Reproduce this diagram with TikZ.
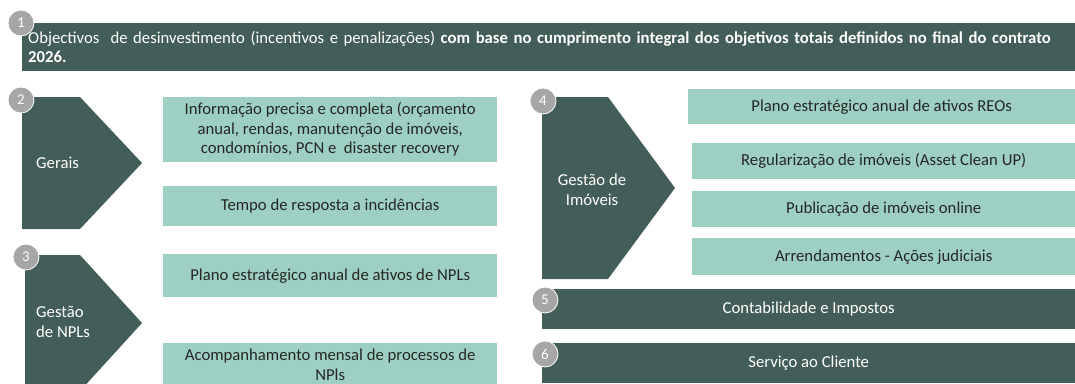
\documentclass[tikz,border=0pt]{standalone}
\usepackage{fontspec}
\setmainfont{Carlito}
\definecolor{slate}{HTML}{435E58}
\definecolor{mint}{HTML}{9DD0C3}
\definecolor{badgegray}{HTML}{A6A6A6}
\definecolor{ink}{HTML}{262626}
\tikzset{
  darkbar/.style={fill=slate,text=white,inner sep=0pt,anchor=north west},
  itembox/.style={fill=mint,text=ink,align=center,inner sep=0pt,anchor=north west},
  badge/.style={circle,fill=badgegray,draw=white,line width=0.8pt,text=white,minimum size=26pt,inner sep=0pt,font=\fontsize{15}{15}\selectfont},
  lbl/.style={text=white,align=left,inner sep=0pt}
}
\begin{document}
\begin{tikzpicture}[x=1pt,y=-1pt,font=\fontsize{16.7}{19.5}\selectfont]
\useasboundingbox (0,0) rectangle (1075,383);

\node [darkbar,minimum width=1053pt,minimum height=48pt,text width=1041pt,inner xsep=6pt,align=left] (obj) at (22,23)
  {Objectivos \ de desinvestimento (incentivos e penalizações) \textbf{com base no cumprimento integral dos objetivos totais definidos no final do contrato}\\\textbf{2026.}}; %Header

\fill [slate] (22,97) -- (80,97) -- (142,163) -- (80,229) -- (22,229) -- cycle; %Gerais
\fill [slate] (25,255) -- (80,255) -- (142,323) -- (80,391) -- (25,391) -- cycle; %NPLs
\fill [slate] (542,97) -- (608,97) -- (675,188) -- (608,279) -- (542,279) -- cycle; %Imoveis

\node [lbl,anchor=west] (gerais) at (36,163) {Gerais};
\node [lbl,anchor=west] (npls) at (36,322) {Gestão\\de NPLs};
\node [lbl,align=center] (imoveis) at (592,190) {Gestão de\\Imóveis};

\node [itembox,minimum width=334pt,minimum height=65pt] (info) at (163,97)
  {Informação precisa e completa (orçamento\\anual, rendas, manutenção de imóveis,\\condomínios, PCN e \ disaster recovery};
\node [itembox,minimum width=334pt,minimum height=40pt] (tempo) at (163,186) {Tempo de resposta a incidências};
\node [itembox,minimum width=334pt,minimum height=43pt] (planonpl) at (163,254) {Plano estratégico anual de ativos de NPLs};
\node [itembox,minimum width=334pt,minimum height=43pt] (acomp) at (163,343) {Acompanhamento mensal de processos de\\NPls};

\node [itembox,minimum width=387pt,minimum height=35pt] (planoreo) at (688,89) {Plano estratégico anual de ativos REOs};
\node [itembox,minimum width=383pt,minimum height=36pt] (regul) at (692,143) {Regularização de imóveis (Asset Clean UP)};
\node [itembox,minimum width=383pt,minimum height=36pt] (publ) at (692,191) {Publicação de imóveis online};
\node [itembox,minimum width=383pt,minimum height=37pt] (arrend) at (692,238) {Arrendamentos - Ações judiciais};

\node [darkbar,minimum width=533pt,minimum height=40pt] (contab) at (542,289) {Contabilidade e Impostos};
\node [darkbar,minimum width=533pt,minimum height=40pt] (servico) at (542,343) {Serviço ao Cliente};

\node [badge] (b1) at (21,23) {1};
\node [badge] (b2) at (21,100) {2};
\node [badge] (b3) at (26,257) {3};
\node [badge] (b4) at (543,101) {4};
\node [badge] (b5) at (545,300) {5};
\node [badge] (b6) at (545,354) {6};

\end{tikzpicture}
\end{document}
